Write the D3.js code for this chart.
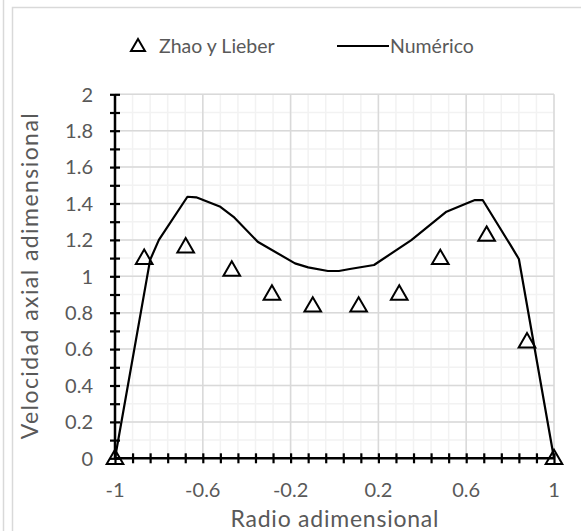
<!DOCTYPE html>
<html><head><meta charset="utf-8">
<script src="https://cdn.jsdelivr.net/npm/d3@7"></script>
<style>body{margin:0;background:#fff}svg{display:block}text{font-family:Lato,"Open Sans",sans-serif}</style>
</head><body>
<svg id="c" width="581" height="531"></svg>
<script>
// Data
const zhaoX = [-1, -0.867, -0.678, -0.468, -0.285, -0.099, 0.110, 0.295, 0.482, 0.693, 0.877, 1];
const zhaoY = [0, 1.10, 1.163, 1.035, 0.903, 0.838, 0.838, 0.903, 1.099, 1.227, 0.641, 0];
const numX = [-1, -0.84, -0.8, -0.67, -0.63, -0.52, -0.46, -0.35, -0.18, -0.12, -0.03, 0.02, 0.07, 0.18, 0.35, 0.51, 0.62, 0.64, 0.675, 0.80, 0.84, 1];
const numY = [0, 1.09, 1.2, 1.437, 1.434, 1.382, 1.327, 1.19, 1.071, 1.049, 1.029, 1.029, 1.04, 1.062, 1.199, 1.355, 1.41, 1.419, 1.419, 1.175, 1.095, 0];
const xTickLabels = ["-1", "-0.6", "-0.2", "0.2", "0.6", "1"];
const yTickLabels = ["0", "0.2", "0.4", "0.6", "0.8", "1", "1.2", "1.4", "1.6", "1.8", "2"];
const seriesNames = ["Zhao y Lieber", "Numérico"];

const svg = d3.select("#c");
const L = 115, R = 554, T = 94.3, B = 458.3;
const x = d3.scaleLinear().domain([-1, 1]).range([L, R]);
const y = d3.scaleLinear().domain([0, 2]).range([B, T]);

// borders
svg.append("line").attr("x1",3.5).attr("x2",3.5).attr("y1",0).attr("y2",531).attr("stroke","#d9d9d9").attr("stroke-width",1.5);
svg.append("rect").attr("x",12.5).attr("y",7.5).attr("width",600).attr("height",600).attr("fill","none").attr("stroke","#d9d9d9").attr("stroke-width",1.5);

// minor grid
const minorX = d3.range(0, 26).map(i => -1 + i * 0.08);
const minorY = d3.range(0, 21).map(i => i * 0.1);
const g = svg.append("g");
g.selectAll(".mx").data(minorX).join("line").attr("x1",d=>x(d)).attr("x2",d=>x(d)).attr("y1",T).attr("y2",B).attr("stroke","#f2f2f2").attr("stroke-width",1.5);
g.selectAll(".my").data(minorY).join("line").attr("y1",d=>y(d)).attr("y2",d=>y(d)).attr("x1",L).attr("x2",R).attr("stroke","#f2f2f2").attr("stroke-width",1.5);
// major grid
g.selectAll(".Mx").data(xTickLabels).join("line").attr("x1",d=>x(+d)).attr("x2",d=>x(+d)).attr("y1",T).attr("y2",B).attr("stroke","#d9d9d9").attr("stroke-width",1.5);
g.selectAll(".My").data(yTickLabels).join("line").attr("y1",d=>y(+d)).attr("y2",d=>y(+d)).attr("x1",L).attr("x2",R).attr("stroke","#d9d9d9").attr("stroke-width",1.5);

// axes with cross ticks
const yAxis = d3.axisLeft(y).tickValues(minorY).tickSize(5).tickFormat("");
const ya = svg.append("g").attr("transform",`translate(${L},0)`).call(yAxis);
ya.selectAll(".tick line").attr("x2",5).attr("x1",-5).attr("stroke","#000").attr("stroke-width",2.2);
ya.select(".domain").remove();
svg.append("line").attr("x1",L).attr("x2",L).attr("y1",T).attr("y2",B).attr("stroke","#000").attr("stroke-width",2.5);

const xAxis = d3.axisBottom(x).tickValues(minorX).tickSize(5).tickFormat("");
const xa = svg.append("g").attr("transform",`translate(0,${B})`).call(xAxis);
xa.selectAll(".tick line").attr("y1",-5).attr("y2",5).attr("stroke","#000").attr("stroke-width",2.2);
xa.select(".domain").remove();
svg.append("line").attr("x1",L).attr("x2",R).attr("y1",B).attr("y2",B).attr("stroke","#000").attr("stroke-width",2.5);

// tick labels
svg.selectAll(".yl").data(yTickLabels).join("text").attr("x",93).attr("y",d=>y(+d)).attr("dy","0.36em")
  .attr("text-anchor","end").attr("font-size",20).attr("fill","#595959").text(d=>d);
svg.selectAll(".xl").data(xTickLabels).join("text").attr("x",d=>x(+d)).attr("y",490).attr("dy","0.36em")
  .attr("text-anchor","middle").attr("font-size",20).attr("fill","#595959").text(d=>d);

// axis titles
svg.append("text").attr("x",(L+R)/2).attr("y",527).attr("text-anchor","middle").attr("font-size",23)
  .attr("textLength",208).attr("fill","#595959").text("Radio adimensional");
svg.append("text").attr("transform",`translate(38,${(T+B)/2}) rotate(-90)`).attr("text-anchor","middle").attr("font-size",23)
  .attr("textLength",326).attr("fill","#595959").text("Velocidad axial adimensional");

// line
const lineData = numX.map((d,i)=>[d,numY[i]]);
svg.append("path").datum(lineData).attr("d",d3.line().x(d=>x(d[0])).y(d=>y(d[1]))).attr("fill","none").attr("stroke","#000").attr("stroke-width",2.2).attr("stroke-linejoin","round");

// triangles
const tri = d3.symbol().type(d3.symbolTriangle).size(120);
const pts = zhaoX.map((d,i)=>[d,zhaoY[i]]);
svg.selectAll(".pt").data(pts).join("path").attr("d",tri).attr("transform",d=>`translate(${x(d[0])},${y(d[1])+1})`)
  .attr("fill","none").attr("stroke","#000").attr("stroke-width",2);

// legend
const lg = svg.append("g");
lg.append("path").attr("d",d3.symbol().type(d3.symbolTriangle).size(85)).attr("transform","translate(138,47)").attr("fill","none").attr("stroke","#000").attr("stroke-width",2);
lg.append("text").attr("x",159).attr("y",46).attr("dy","0.36em").attr("font-size",19.5).attr("fill","#595959").text(seriesNames[0]);
lg.append("line").attr("x1",337).attr("x2",389).attr("y1",46).attr("y2",46).attr("stroke","#000").attr("stroke-width",2);
lg.append("text").attr("x",390).attr("y",46).attr("dy","0.36em").attr("font-size",19.5).attr("fill","#595959").text(seriesNames[1]);
</script>
</body></html>
